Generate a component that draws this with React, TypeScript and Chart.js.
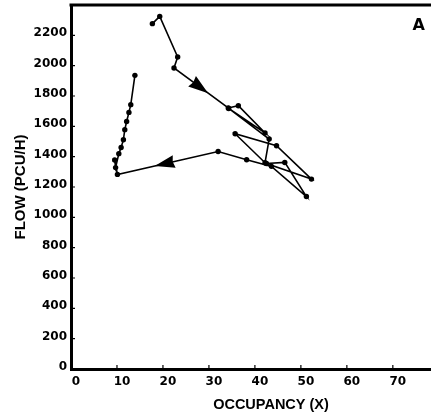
import React, { useEffect, useRef } from "react";
import { Chart, registerables } from "chart.js";

Chart.register(...registerables);

// Trajectory of the traffic state (occupancy %, flow pcu/h), in time order
const occupancy = [
  17.7, 19.3, 23.2, 22.4, 34.2, 36.4, 42.2, 34.3, 43.1, 42.2, 35.7, 44.7, 52.3,
  42.5, 46.5, 51.2, 43.6, 38.2, 32.0, 10.1, 9.5, 9.7, 10.4, 10.9, 11.4, 11.7,
  12.1, 12.6, 13.0, 13.9,
];
const flow = [
  2277, 2325, 2057, 1985, 1721, 1736, 1556, 1718, 1516, 1360, 1551, 1472, 1252,
  1355, 1362, 1137, 1336, 1380, 1434, 1283, 1378, 1328, 1420, 1460, 1512, 1578,
  1632, 1692, 1743, 1936,
];

// Direction arrows: segment start index and fraction along that segment for the tip
const arrowSegments = [3, 18];
const arrowFractions = [0.63, 0.63];

const xMin = 0;
const xMax = 87;
const xStep = 10;
const yMin = 0;
const yMax = 2400;
const yStep = 200;
const yTickMax = 2200;

const xTitle = "OCCUPANCY (X)";
const yTitle = "FLOW (PCU/H)";
const panelLabel = "A";
const panelLabelPos = [75.6, 2262];

const TICK_FONT = { family: "'DejaVu Sans', sans-serif", size: 12, weight: "bold" as const };
const TITLE_FONT = { family: "'Liberation Sans', Arial, sans-serif", size: 14.5, weight: "bold" as const };

const decorPlugin = {
  id: "decor",
  afterDraw(chart: any) {
    const { ctx, chartArea } = chart;
    const xs = chart.scales.x;
    const ys = chart.scales.y;
    ctx.save();
    ctx.strokeStyle = "#000";
    // top frame line
    ctx.lineWidth = 3;
    ctx.beginPath();
    ctx.moveTo(chartArea.left - 1.5, chartArea.top);
    ctx.lineTo(chartArea.right, chartArea.top);
    ctx.stroke();
    // inward tick marks
    ctx.lineWidth = 1.2;
    ctx.beginPath();
    ys.ticks.forEach((t: any) => {
      const y = ys.getPixelForValue(t.value);
      ctx.moveTo(chartArea.left, y);
      ctx.lineTo(chartArea.left + 4, y);
    });
    xs.ticks.forEach((t: any) => {
      const x = xs.getPixelForValue(t.value);
      ctx.moveTo(x, chartArea.bottom);
      ctx.lineTo(x, chartArea.bottom - 4);
    });
    ctx.stroke();
    // direction arrows
    const meta = chart.getDatasetMeta(0);
    ctx.fillStyle = "#000";
    arrowSegments.forEach((s, i) => {
      const p0 = meta.data[s];
      const p1 = meta.data[s + 1];
      const dx = p1.x - p0.x;
      const dy = p1.y - p0.y;
      const len = Math.hypot(dx, dy);
      const ux = dx / len;
      const uy = dy / len;
      const tx = p0.x + dx * arrowFractions[i];
      const ty = p0.y + dy * arrowFractions[i];
      const L = 20;
      const W = 6.5;
      const bx = tx - ux * L;
      const by = ty - uy * L;
      ctx.beginPath();
      ctx.moveTo(tx, ty);
      ctx.lineTo(bx - uy * W, by + ux * W);
      ctx.lineTo(bx + ux * 1.5, by + uy * 1.5);
      ctx.lineTo(bx + uy * W, by - ux * W);
      ctx.closePath();
      ctx.fill();
    });
    // panel label
    ctx.font = "bold 16px 'DejaVu Sans', sans-serif";
    ctx.textAlign = "center";
    ctx.textBaseline = "middle";
    ctx.fillText(panelLabel, xs.getPixelForValue(panelLabelPos[0]), ys.getPixelForValue(panelLabelPos[1]));
    ctx.restore();
  },
};

export default function App() {
  const ref = useRef<HTMLCanvasElement | null>(null);
  useEffect(() => {
    if (!ref.current) return;
    const chart = new Chart(ref.current, {
      type: "scatter",
      data: {
        datasets: [
          {
            data: occupancy.map((x, i) => ({ x, y: flow[i] })),
            showLine: true,
            borderColor: "#000",
            backgroundColor: "#000",
            borderWidth: 1.6,
            pointRadius: 2.7,
            pointBackgroundColor: "#000",
            pointBorderWidth: 0,
          },
        ],
      },
      options: {
        animation: false,
        responsive: false,
        layout: { padding: { top: 5, right: 9, left: 0, bottom: 0 } },
        plugins: { legend: { display: false }, tooltip: { enabled: false } },
        scales: {
          x: {
            type: "linear",
            min: xMin,
            max: xMax,
            afterFit: (s: any) => {
              s.height = 49;
              s.paddingLeft = 0;
              s.paddingRight = 0;
            },
            ticks: {
              stepSize: xStep,
              includeBounds: false,
              color: "#000",
              font: TICK_FONT,
              padding: 6,
              labelOffset: 5,
              maxRotation: 0,
            },
            grid: { display: true, drawOnChartArea: false, drawTicks: false },
            border: { display: true, width: 3, color: "#000" },
            title: {
              display: true,
              text: xTitle,
              color: "#000",
              font: TITLE_FONT,
              padding: { top: 0, bottom: 4 },
            },
          },
          y: {
            type: "linear",
            min: yMin,
            max: yMax,
            afterFit: (s: any) => {
              s.width = 71;
              s.paddingTop = 0;
              s.paddingBottom = 0;
            },
            afterBuildTicks: (s: any) => {
              s.ticks = s.ticks.filter((t: any) => t.value <= yTickMax);
            },
            ticks: {
              stepSize: yStep,
              color: "#000",
              font: TICK_FONT,
              padding: 4,
              labelOffset: -2,
              callback: (v: any) => String(v),
            },
            grid: { display: true, drawOnChartArea: false, drawTicks: false },
            border: { display: true, width: 3, color: "#000" },
            title: {
              display: true,
              text: yTitle,
              color: "#000",
              font: { ...TITLE_FONT, size: 15 },
              padding: { top: 12, bottom: 0 },
            },
          },
        },
      },
      plugins: [decorPlugin],
    });
    return () => chart.destroy();
  }, []);
  return (
    <div
      style={{
        position: "absolute",
        left: 0,
        top: 0,
        width: 431,
        height: 418,
        overflow: "hidden",
        background: "#fff",
      }}
    >
      <canvas ref={ref} width={480} height={418} style={{ display: "block" }} />
    </div>
  );
}
